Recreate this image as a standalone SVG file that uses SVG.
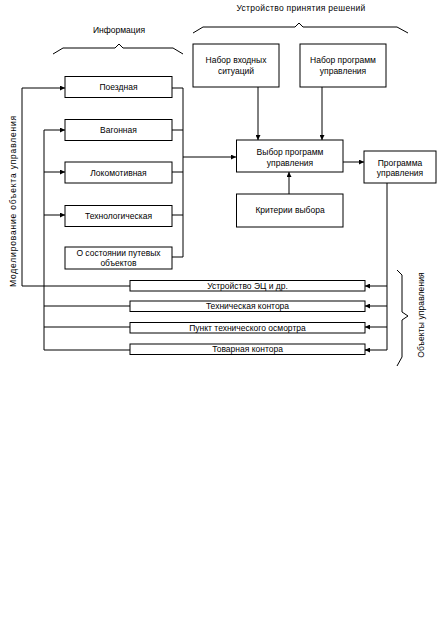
<svg xmlns="http://www.w3.org/2000/svg" width="437" height="623" viewBox="0 0 437 623">
<style>
.b{fill:#fff;stroke:#000;stroke-width:1}
.t{font-family:"Liberation Sans",Arial,sans-serif;font-size:8.5px;fill:#000;text-anchor:middle}
.c{fill:none;stroke:#000;stroke-width:1}
</style>
<defs>
<marker id="a" viewBox="0 0 6 6" refX="6" refY="3" markerWidth="5" markerHeight="5" markerUnits="userSpaceOnUse" orient="auto">
<path d="M0,0L6,3L0,6z" fill="#000"/>
</marker>
</defs>
<rect width="437" height="623" fill="#fff"/>
<g id="labels">
<text class="t" x="119" y="33">Информация</text>
<text class="t" x="301" y="11" letter-spacing="0.3">Устройство принятия решений</text>
<text class="t" transform="translate(16,201) rotate(-90)" letter-spacing="0.8">Моделирование объекта управления</text>
<text class="t" transform="translate(424,315) rotate(-90)" letter-spacing="0.1">Объекты управления</text>
<path class="c" d="M53,54L63,48H115L119,44L123,48H173L183,54"/>
<path class="c" d="M193,33L203,27H295L299,23L303,27H397L408,33"/>
<path class="c" d="M397,270L402,275V312L408,316L402,320V357L397,366"/>
</g>
<g id="connectors">
<path class="c" d="M130,286H22V88H65" marker-end="url(#a)"/>
<path class="c" d="M130,350H44V130H65" marker-end="url(#a)"/>
<path class="c" d="M44,172H65" marker-end="url(#a)"/>
<path class="c" d="M44,215H65" marker-end="url(#a)"/>
<path class="c" d="M44,306H130M44,327H130"/>
<path class="c" d="M172,88H183V257H172M172,130H183M172,172H183M172,215H183"/>
<path class="c" d="M183,157H236" marker-end="url(#a)"/>
<path class="c" d="M258,87V140" marker-end="url(#a)"/>
<path class="c" d="M322,87V140" marker-end="url(#a)"/>
<path class="c" d="M289,194V172" marker-end="url(#a)"/>
<path class="c" d="M343,162H364" marker-end="url(#a)"/>
<path class="c" d="M387,183V350H365"/>
<path class="c" d="M387,286H365" marker-end="url(#a)"/>
<path class="c" d="M387,306H365" marker-end="url(#a)"/>
<path class="c" d="M387,327H365" marker-end="url(#a)"/>
<path class="c" d="M370,350H365" marker-end="url(#a)"/>
</g>
<g id="n-poezd"><rect class="b" x="65" y="76.5" width="107" height="21"/><text class="t" x="118.5" y="90">Поездная</text></g>
<g id="n-vagon"><rect class="b" x="65" y="119.5" width="107" height="21"/><text class="t" x="118.5" y="133">Вагонная</text></g>
<g id="n-lok"><rect class="b" x="65" y="162" width="107" height="21"/><text class="t" x="118.5" y="175.5">Локомотивная</text></g>
<g id="n-tech"><rect class="b" x="65" y="205.5" width="107" height="21"/><text class="t" x="118.5" y="219">Технологическая</text></g>
<g id="n-sost"><rect class="b" x="65" y="247" width="107" height="22"/><text class="t" x="118.5" y="255.5">О состоянии путевых</text><text class="t" x="118.5" y="266">объектов</text></g>
<g id="n-vhod"><rect class="b" x="193" y="44" width="86" height="43"/><text class="t" x="236" y="63">Набор входных</text><text class="t" x="236" y="74">ситуаций</text></g>
<g id="n-prog"><rect class="b" x="300" y="44" width="86" height="43"/><text class="t" x="343" y="63">Набор программ</text><text class="t" x="343" y="74">управления</text></g>
<g id="n-vybor"><rect class="b" x="236.5" y="140" width="106.5" height="32"/><text class="t" x="290" y="155">Выбор программ</text><text class="t" x="290" y="165.5">управления</text></g>
<g id="n-krit"><rect class="b" x="236.5" y="194" width="106.5" height="33"/><text class="t" x="290" y="213">Критерии выбора</text></g>
<g id="n-progupr"><rect class="b" x="364" y="151" width="72" height="32"/><text class="t" x="400" y="165.5">Программа</text><text class="t" x="400" y="176">управления</text></g>
<g id="n-ec"><rect class="b" x="130" y="280.5" width="235" height="10.5"/><text class="t" x="247.5" y="288.5">Устройство ЭЦ и др.</text></g>
<g id="n-tk"><rect class="b" x="130" y="301" width="235" height="10.5"/><text class="t" x="247.5" y="309">Техническая контора</text></g>
<g id="n-pto"><rect class="b" x="130" y="322.5" width="235" height="10.5"/><text class="t" x="247.5" y="330.5">Пункт технического осмортра</text></g>
<g id="n-tov"><rect class="b" x="130" y="344" width="235" height="10.5"/><text class="t" x="247.5" y="352">Товарная контора</text></g>
</svg>
